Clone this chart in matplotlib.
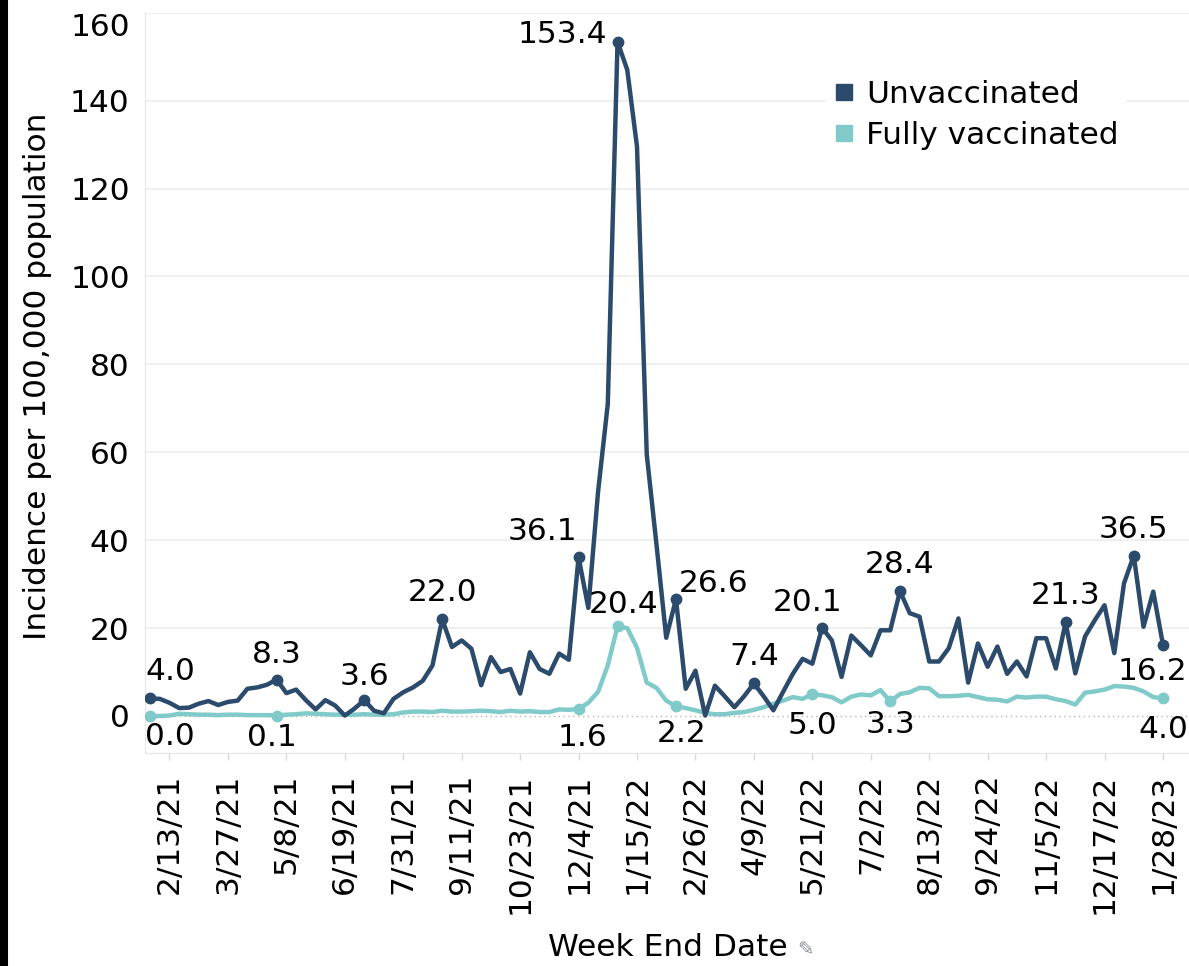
import pandas as pd
import numpy as np
import matplotlib
matplotlib.use('Agg')
import matplotlib.pyplot as plt
from matplotlib.lines import Line2D

matplotlib.rcParams['font.family'] = ['DejaVu Sans']

# weekly data, week end dates starting 1/30/21
weeks = pd.date_range('2021-01-30', periods=105, freq='7D')
unvax = [4.0, 3.9, 3.0, 1.8, 1.9, 2.8, 3.4, 2.5, 3.2, 3.5,
         6.2, 6.5, 7.1, 8.3, 5.2, 6.0, 3.6, 1.5, 3.6, 2.4,
         0.1, 1.7, 3.6, 1.2, 0.6, 3.9, 5.4, 6.5, 8.0, 11.5,
         22.0, 15.7, 17.2, 15.3, 7.0, 13.4, 10.0, 10.7, 5.1, 14.5,
         10.7, 9.6, 14.2, 12.8, 36.1, 24.6, 51.0, 71.0, 153.4, 147.0,
         129.5, 59.5, 39.0, 17.8, 26.6, 6.2, 10.3, 0.1, 6.9, 4.5,
         2.0, 4.5, 7.4, 4.5, 1.3, 5.5, 9.6, 13.0, 11.9, 20.1,
         17.2, 8.9, 18.3, 16.1, 13.8, 19.5, 19.5, 28.4, 23.4, 22.6,
         12.4, 12.4, 15.4, 22.2, 7.6, 16.5, 11.2, 15.8, 9.6, 12.4,
         9.0, 17.7, 17.7, 10.8, 21.3, 9.7, 18.1, 21.8, 25.2, 14.3,
         30.2, 36.5, 20.3, 28.3, 16.2]
fullvax = [0.0, 0.0, 0.1, 0.5, 0.4, 0.3, 0.3, 0.2, 0.3, 0.3,
           0.2, 0.2, 0.2, 0.1, 0.3, 0.4, 0.6, 0.5, 0.4, 0.3,
           0.3, 0.3, 0.4, 0.3, 0.3, 0.4, 0.8, 1.0, 1.0, 0.9,
           1.2, 1.0, 1.0, 1.1, 1.2, 1.1, 0.9, 1.2, 1.0, 1.1,
           0.9, 0.9, 1.5, 1.4, 1.6, 3.0, 5.5, 11.5, 20.4, 20.0,
           15.5, 7.6, 6.4, 3.5, 2.2, 1.8, 1.3, 0.7, 0.4, 0.4,
           0.7, 0.9, 1.4, 2.0, 2.8, 3.5, 4.3, 3.9, 5.0, 4.7,
           4.3, 3.1, 4.4, 4.9, 4.7, 5.9, 3.3, 5.0, 5.4, 6.4,
           6.3, 4.5, 4.5, 4.6, 4.8, 4.3, 3.8, 3.7, 3.3, 4.4,
           4.2, 4.4, 4.4, 3.8, 3.4, 2.6, 5.3, 5.6, 6.0, 6.8,
           6.7, 6.4, 5.6, 4.3, 4.0]
unvax_marked = [0, 13, 22, 30, 44, 48, 54, 62, 69, 77, 94, 101, 104]
fullvax_marked = [0, 13, 44, 48, 54, 68, 76, 104]
yticks = [0, 20, 40, 60, 80, 100, 120, 140, 160]

c_un = '#2c4b6c'
c_fv = '#80cbc9'

W, H = 1189, 966
fig = plt.figure(figsize=(W/100, H/100), dpi=100)
ax = fig.add_axes([145/W, 1-753/H, (W-145)/W, (753-12.8)/H])

ax.plot(weeks, fullvax, color=c_fv, lw=3.2, solid_joinstyle='round', zorder=3)
ax.plot(weeks, unvax, color=c_un, lw=3.2, solid_joinstyle='round', zorder=4)
ax.plot(weeks[fullvax_marked], np.array(fullvax)[fullvax_marked], 'o', color=c_fv, ms=7.5, zorder=3)
ax.plot(weeks[unvax_marked], np.array(unvax)[unvax_marked], 'o', color=c_un, ms=7.5, zorder=4)

# label offsets in pixels (dx, dy of baseline from point), alignment
px = 0.72
un_lab = {0: (-5, 18, 'left'), 13: (0, 17, 'center'), 22: (0, 15, 'center'),
          30: (0, 18, 'center'), 44: (-1, 17, 'right'), 48: (-10, -1, 'right'),
          54: (3, 7, 'left'), 62: (0, 18, 'center'), 69: (-15, 17, 'center'),
          77: (0, 18, 'center'), 94: (0, 18, 'center'), 101: (0, 18, 'center'),
          104: (24, -35, 'right')}
fv_lab = {0: (-5, -29, 'left'), 13: (-5, -30, 'center'), 44: (4, -37, 'center'),
          48: (6, 13, 'center'), 54: (6, -36, 'center'), 68: (0, -40, 'center'),
          76: (0, -32, 'center'), 104: (0, -40, 'center')}
for i, (dx, dy, ha) in un_lab.items():
    ax.annotate(f'{unvax[i]:.1f}', (weeks[i], unvax[i]), xytext=(dx*px, dy*px),
                textcoords='offset points', ha=ha, va='baseline', fontsize=22.5,
                color='black', zorder=6, annotation_clip=False)
for i, (dx, dy, ha) in fv_lab.items():
    ax.annotate(f'{fullvax[i]:.1f}', (weeks[i], fullvax[i]), xytext=(dx*px, dy*px),
                textcoords='offset points', ha=ha, va='baseline', fontsize=22.5,
                color='black', zorder=6, annotation_clip=False)

ax.set_ylim(-8.42, 160)
ax.set_xlim(weeks[0] - pd.Timedelta(days=3.6), weeks[-1] + pd.Timedelta(days=18.7))
ax.set_yticks(yticks)
ax.set_yticklabels([str(v) for v in yticks])
ax.get_yticklabels()[-1].set_va('top')
xt = weeks[2::6]
ax.set_xticks(xt)
ax.set_xticklabels([f'{d.month}/{d.day}/{d.strftime("%y")}' for d in xt], rotation=90, va='top')
ax.tick_params(axis='y', length=0, pad=11, labelsize=22.5, labelcolor='black')
ax.tick_params(axis='x', length=5, width=1, color='#d9d9d9', pad=10, labelsize=22.5,
               labelcolor='black')

for v in yticks[1:]:
    ax.axhline(v, color='#ececec', lw=1.2, zorder=1)
ax.axhline(0, color='#b5b5b5', lw=1, ls=(0, (1, 2.5)), zorder=1)
for s in ['top', 'right']:
    ax.spines[s].set_visible(False)
ax.spines['left'].set_color('#e6e6e6')
ax.spines['bottom'].set_color('#e6e6e6')

leg = ax.legend(handles=[Line2D([], [], marker='s', ls='', color=c_un, ms=11),
                         Line2D([], [], marker='s', ls='', color=c_fv, ms=11)],
                labels=['Unvaccinated', 'Fully vaccinated'], loc='upper left',
                bbox_to_anchor=(810/W, 1-58/H), bbox_transform=fig.transFigure,
                frameon=True, fontsize=22.5, handletextpad=0.3, labelspacing=0.38,
                borderpad=0.2, handlelength=0.8)
leg.get_frame().set_edgecolor('white')
leg.get_frame().set_facecolor('white')
leg.get_frame().set_alpha(1)

fig.text(38/W, 1-376/H, 'Incidence per 100,000 population', rotation=90,
         ha='center', va='center', fontsize=22.5)
fig.text(668/W, 1-948/H, 'Week End Date', ha='center', va='center', fontsize=22.5)
fig.text(805/W, 1-950/H, '\u270e', ha='center', va='center', fontsize=14,
         color='#8a8f99', family='DejaVu Sans')
fig.add_artist(Line2D([4/W, 4/W], [0, 1], color='black', lw=5.8))

fig.savefig('out.png', dpi=100)
